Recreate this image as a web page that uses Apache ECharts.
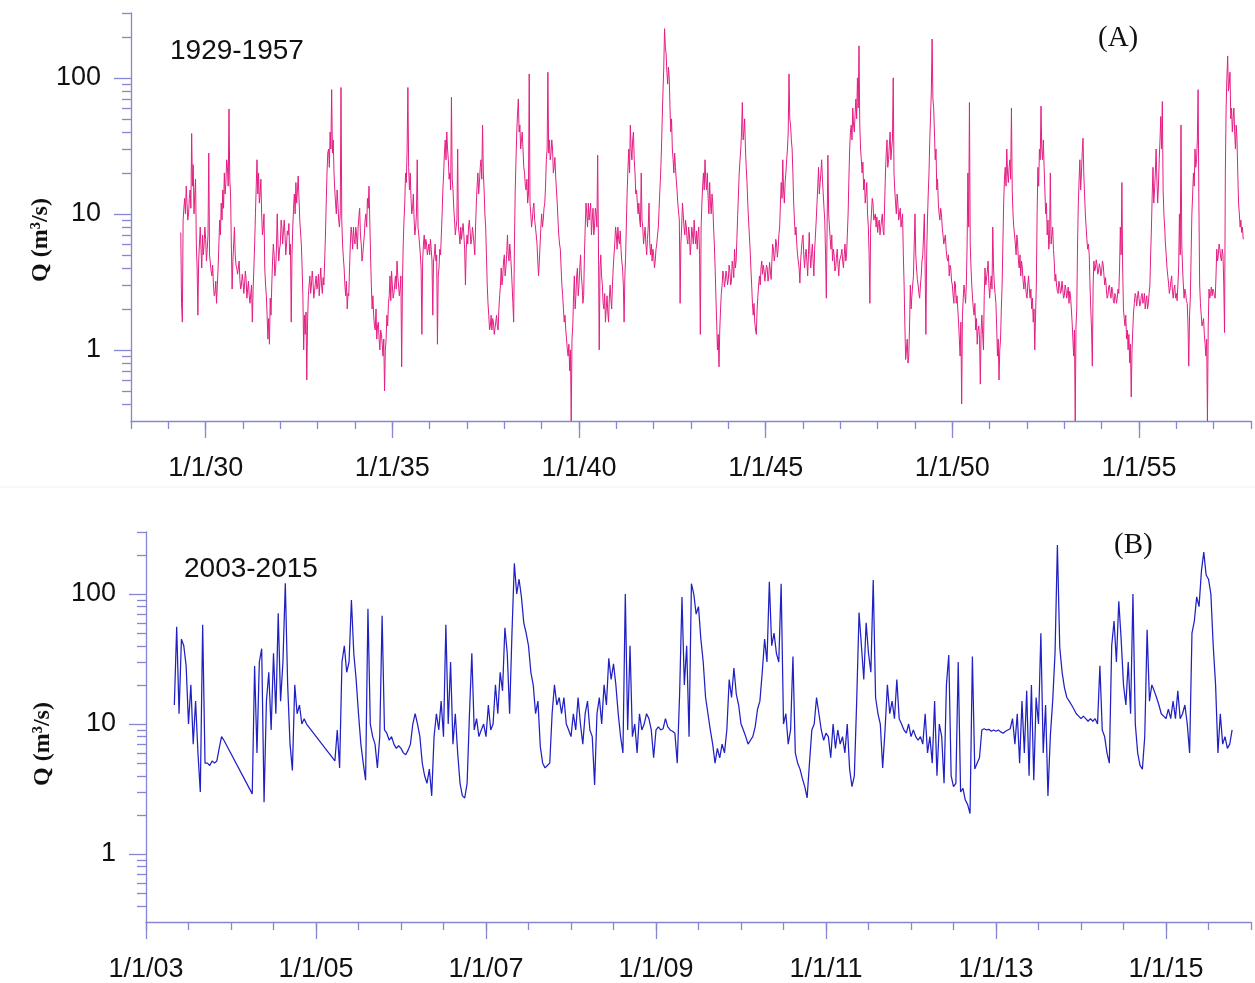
<!DOCTYPE html>
<html>
<head>
<meta charset="utf-8">
<script src="https://cdn.jsdelivr.net/npm/echarts@6/dist/echarts.min.js"></script>
<style>
  html, body { margin: 0; padding: 0; background: #ffffff; }
  #chart { width: 1255px; height: 983px; }
</style>
</head>
<body>
<div id="chart"></div>
<script>
// Discharge Q (m3/s), 1929-1957, 48 readings per year (about weekly).
const qA_1929 = [null, null, null, null, null, null, null, null, null, null, null, null, null, null, null, null,
  7.3, 2.2, 1.6, 9, 11, 13, 10, 16, 12, 9, 10, 13, 15, 11, 39, 16, 23, 10, 14, 18, 6, 4, 1.8, 4.5, 6, 8, 5.5, 4, 7, 5, 6, 8];
const qA_1930 = [6.5, 4.5, 5.5, 7, 28, 5, 5, 3.8, 3.5, 4.2, 3, 2.5, 2.6, 3.2, 2.2, 3, 4, 6, 9, 7, 12, 9, 15, 11,
  20, 14, 17, 25, 22, 16, 59, 18, 14, 6, 2.8, 4.5, 6, 8, 5, 4.2, 4, 3.6, 3.5, 4.5, 3.3, 2.8, 3, 3.6];
const qA_1931 = [3.2, 2.6, 3, 3.8, 3.3, 2.4, 2.8, 3.2, 2.5, 2.2, 2.6, 3, 1.6, 2.8, 4, 6, 10, 16, 25, 14, 20, 12, 14, 18,
  10, 7, 8, 10, 4, 3, 2.5, 1.8, 1.2, 1.7, 1.1, 2.4, 1.8, 3, 4.5, 6, 5, 3.5, 4, 5.5, 10, 6, 4.5, 5.5];
const qA_1932 = [6, 9, 8, 6, 7.5, 9, 7, 5, 6, 7.5, 7, 8.5, 5, 6, 1.6, 5, 8, 11, 14, 10, 17, 12, 15, 19,
  13, 9, 9, 6, 4, 2.5, 1.0, 1.8, 1.3, 1.9, 0.6, 1.6, 2.5, 3, 3.5, 2.6, 3, 3.8, 3.2, 2.4, 2.7, 3.1, 3.5, 2.8];
const qA_1933 = [3, 3.6, 2.5, 3.2, 4, 3, 2.6, 3.4, 3, 4.5, 7, 12, 20, 28, 30, 22, 40, 30, 82, 28, 35, 20, 15, 12,
  10, 15, 12, 9, 8, 10, 85, 9, 6, 4.8, 4, 3, 2.5, 3.2, 2, 2.6, 2.5, 4, 6, 8, 7, 5.5, 8, 6.5];
const qA_1934 = [6, 8, 7, 5.5, 8, 9.5, 11, 7, 6, 4.5, 5, 6, 7, 9, 10, 8, 13, 11, 16, 9, 5, 3, 2, 2.5,
  1.8, 1.5, 1.4, 2, 1.2, 1.5, 1.6, 1.2, 1.0, 1.4, 1.3, 1.1, 0.9, 1.2, 0.5, 1.0, 1.2, 1.8, 1.5, 2.2, 2.5, 3.5, 2.3, 3.8];
const qA_1935 = [3, 2.4, 2.6, 3, 3.5, 2.8, 4.5, 3.5, 3, 2.5, 2.8, 3.5, 0.75, 3, 6, 9, 12, 20, 17, 30, 85, 22, 15, 20,
  13, 10, 11, 14, 9, 7, 8, 10, 25, 8, 7, 6, 5, 4, 1.3, 4.5, 6, 7, 5.5, 6.5, 6, 5, 5.5, 6];
const qA_1936 = [5, 6.5, 5.5, 4.5, 1.8, 4.5, 5, 6, 4.5, 5, 1.1, 3.5, 4, 5.5, 5, 7, 10, 15, 20, 28, 35, 25, 40, 30,
  25, 18, 20, 15, 72, 18, 15, 11, 9, 7, 8, 9, 30, 8, 7, 6, 8, 6.5, 7.5, 8.5, 7, 5.5, 3, 5.5];
const qA_1937 = [7, 6, 8, 9, 7.5, 6, 6.5, 8, 7, 6, 5, 8, 12, 16, 20, 14, 17, 22, 25, 18, 45, 20, 15, 10,
  8, 5, 3, 2.2, 1.8, 1.4, 1.5, 1.8, 1.4, 1.7, 1.6, 1.3, 1.3, 1.6, 1.8, 1.5, 1.4, 2, 2.5, 3, 4, 3, 3.5, 4.5];
const qA_1938 = [5, 3.5, 4, 5, 7, 5, 4.5, 6, 5, 4, 3, 2.2, 1.6, 6, 15, 25, 40, 55, 70, 40, 45, 30, 35, 40,
  30, 22, 20, 16, 15, 18, 12, 14, 107, 12, 10, 8, 9, 11, 12, 9, 8, 7, 6, 4.5, 3.5, 4.5, 6, 8];
const qA_1939 = [10, 8, 9, 11, 12, 16, 25, 30, 110, 28, 35, 25, 28, 35, 30, 20, 22, 26, 19, 15, 12, 9, 7, 6,
  5.5, 4, 3, 2.5, 2, 1.6, 1.8, 1.4, 1.2, 1.0, 0.9, 1.1, 0.7, 1.0, 0.3, 1.2, 1.5, 2.5, 3.5, 2, 2.5, 3.5, 4, 2.5];
const qA_1940 = [3, 4, 5, 3.5, 3, 2.2, 2.5, 5, 8, 12, 10, 8, 12, 9, 9, 12, 7, 9, 11, 7, 8, 11, 10, 8,
  27, 6, 1.0, 4, 5, 3.5, 3, 2.2, 2, 2.6, 1.6, 2, 2.5, 1.9, 1.6, 2.4, 3, 2.4, 2, 3, 4, 5, 6, 8];
const qA_1941 = [7, 5.5, 8, 6.5, 6, 7.5, 5.5, 4.5, 4, 3, 1.6, 3.5, 5, 9, 15, 22, 30, 20, 45, 30, 25, 35, 40, 25,
  20, 14, 15, 12, 10, 12, 9, 8, 20, 9, 8, 6, 7, 8, 6, 5, 6.5, 8, 12, 6, 5, 6, 4.5, 5.5];
const qA_1942 = [5, 4, 4.5, 5.5, 6, 7, 8, 11, 15, 20, 30, 50, 80, 120, 230, 170, 150, 110, 90, 120, 100, 60, 40, 50,
  30, 25, 20, 28, 22, 18, 15, 12, 12, 9, 2.2, 6, 8, 12, 10, 8, 7, 9, 8, 6.5, 6, 8, 7, 5];
const qA_1943 = [6, 8, 7, 6, 9, 7, 6, 7.5, 5.5, 7, 8, 5, 1.3, 8, 12, 16, 20, 15, 25, 18, 15, 20, 13, 10,
  17, 12, 10, 14, 12, 8, 6, 4, 2.5, 1.6, 1.0, 1.3, 0.75, 1.4, 2.0, 2.6, 3.0, 3.8, 3.5, 2.9, 3.2, 3.8, 3.5, 3];
const qA_1944 = [3.3, 4.2, 3.8, 3, 3.2, 4.5, 4, 3.4, 5.5, 4, 4.5, 6.5, 9.7, 14, 20, 25, 30, 40, 66, 35, 40, 50, 30, 22,
  17, 12, 9, 7, 5.5, 4, 3, 2.2, 1.8, 2.2, 1.6, 1.4, 1.3, 2, 2.5, 3, 3.5, 3, 4, 4.5, 3.6, 4.2, 3.8, 3.2];
const qA_1945 = [3.3, 4.2, 4, 3.2, 3.5, 4.4, 3.8, 3.3, 4.5, 6, 5.5, 4.5, 5, 6.5, 6, 4.8, 5.5, 7, 8, 12, 17, 13, 25, 15,
  12, 17, 20, 25, 30, 40, 107, 50, 45, 35, 30, 20, 12, 9, 7, 8, 6, 5, 5, 4, 3.1, 4.5, 5.5, 6.5];
const qA_1946 = [7, 5, 4, 5, 5.5, 4.5, 3.5, 5, 7.3, 5, 4, 5, 6, 4.5, 3.5, 5.5, 7, 9, 12, 16, 22, 14, 17, 20,
  25, 18, 14, 11, 9, 5, 2.4, 8, 27, 10, 8, 6.5, 5.5, 7, 4.5, 5.5, 5, 3.8, 4, 4.8, 5.5, 4.2, 3.5, 4.5];
const qA_1947 = [4.5, 5, 5.5, 4.5, 4, 5, 6, 4.5, 5, 7, 10, 18, 30, 40, 45, 35, 60, 45, 40, 55, 70, 50, 100, 60,
  172, 45, 30, 25, 20, 24, 15, 18, 12, 14, 17, 10, 8, 5, 2.2, 8, 10, 13, 12, 9, 9, 10, 8, 9.5];
const qA_1948 = [7.3, 8.5, 9, 7, 8, 9, 10, 7.5, 7, 12, 20, 28, 35, 22, 25, 32, 40, 25, 30, 35, 100, 20, 15, 12,
  10, 14, 12, 9, 9, 11, 8, 9, 10, 5, 3, 1.5, 0.85, 1.0, 1.2, 0.8, 0.9, 1.5, 3, 2, 2.5, 3, 3.5, 6];
const qA_1949 = [10, 5, 4, 3.3, 3, 2.6, 2.4, 3, 3.5, 4.5, 5, 7, 10, 4, 1.3, 5, 9, 14, 20, 35, 52, 80, 193, 70,
  60, 40, 25, 30, 15, 18, 12, 10, 9, 11, 10, 8, 7, 6, 6, 7, 5.5, 4.8, 4.5, 5, 3.5, 4.2, 4, 3.2];
const qA_1950 = [3, 2.5, 2.2, 3.2, 3, 2.2, 2.5, 2, 1.6, 1.2, 0.9, 1.6, 0.4, 1.8, 2.4, 3, 2.6, 2.2, 3, 6, 20, 8, 66, 6,
  4, 3, 2.4, 2, 1.8, 2.2, 1.4, 1.7, 1.1, 1.4, 1.5, 1.2, 0.56, 1.4, 1.8, 1.3, 1.0, 2.5, 4, 3, 3, 3.8, 4.5, 3];
const qA_1951 = [2.4, 3, 3.5, 2.8, 8, 4, 3, 2.6, 2.2, 1.5, 0.9, 1.2, 0.6, 1.0, 1.2, 2, 3, 6, 12, 18, 22, 16, 30, 20,
  17, 22, 25, 18, 60, 15, 10, 8, 7, 6, 5, 7, 6, 4.5, 4, 5, 3.5, 4.5, 4, 3.2, 2.8, 3.5, 3, 2.6];
const qA_1952 = [2.4, 3, 3.5, 2.8, 2.4, 2.8, 2, 2.4, 1.6, 2, 1.0, 1.8, 3, 10, 22, 16, 30, 25, 62, 30, 25, 35, 22, 15,
  10, 12, 7, 9, 5.5, 6.5, 20, 6, 7, 8, 5.5, 4.5, 3.2, 3.6, 3, 2.7, 2.6, 3.2, 3, 2.6, 2.7, 3.2, 2.8, 2.4];
const qA_1953 = [2.5, 3, 2.8, 2.4, 2.6, 2.9, 2.2, 2.7, 2.5, 2, 1.6, 1.2, 0.9, 1.4, 0.3, 1.5, 2, 6, 12, 18, 25, 15, 20, 28,
  36, 20, 14, 10, 8, 6.5, 5.5, 6, 5, 3, 2, 1.4, 0.76, 3, 4.5, 3.8, 4, 4.6, 4.2, 3.6, 3.8, 4.3, 4, 3.5];
const qA_1954 = [3.8, 4.5, 4.2, 3.5, 3, 3.4, 2.8, 2.4, 2.5, 2.9, 3, 2.6, 2.4, 2.9, 2.7, 2.3, 2.2, 2.6, 2.5, 2.2, 2.4, 2.8, 2.6, 4,
  8, 5, 17, 4, 2, 1.7, 1.5, 1.8, 1.2, 1.4, 1.0, 1.3, 0.8, 1.1, 0.45, 1.0, 1.4, 1.9, 2.2, 2.6, 2.5, 2.1, 2.4, 2.7];
const qA_1955 = [2.4, 2.1, 2.2, 2.5, 2.6, 2.2, 2.3, 2.6, 2, 2.3, 2.5, 2, 2.2, 2.6, 3, 5, 8, 14, 22, 12, 15, 20, 30, 18,
  12, 16, 25, 35, 52, 30, 67, 15, 10, 8, 6, 5, 4, 3.5, 3.1, 2.6, 2.8, 3.2, 3.5, 2.7, 2.4, 2.8, 3, 2.4];
const qA_1956 = [2.6, 2.3, 3, 4, 10, 5, 45, 6, 4, 3, 2.4, 2.8, 2.6, 2.3, 2.2, 1.5, 0.76, 1.8, 2.4, 5, 10, 14, 20, 16,
  30, 22, 25, 35, 82, 12, 3, 2.2, 1.8, 1.5, 1.5, 1.7, 1.3, 1.1, 0.9, 1.2, 0.3, 1.5, 2.8, 2.4, 2.6, 2.9, 2.5, 2.8];
const qA_1957 = [2.7, 2.5, 2.4, 3.5, 5.5, 4.5, 5, 6, 5.5, 4.8, 4.5, 5.5, 5, 3, 1.34, 20, 60, 100, 145, 80, 90, 110, 50, 60,
  40, 50, 60, 40, 30, 45, 35, 20, 12, 10, 8, 9, 7.3, 8, 6.5];

const yearsA = [1929, 1930, 1931, 1932, 1933, 1934, 1935, 1936, 1937, 1938, 1939, 1940, 1941, 1942, 1943,
  1944, 1945, 1946, 1947, 1948, 1949, 1950, 1951, 1952, 1953, 1954, 1955, 1956, 1957];
const rowsA = [qA_1929, qA_1930, qA_1931, qA_1932, qA_1933, qA_1934, qA_1935, qA_1936, qA_1937, qA_1938,
  qA_1939, qA_1940, qA_1941, qA_1942, qA_1943, qA_1944, qA_1945, qA_1946, qA_1947, qA_1948, qA_1949,
  qA_1950, qA_1951, qA_1952, qA_1953, qA_1954, qA_1955, qA_1956, qA_1957];
const samplesPerYearA = 48;

// Discharge Q (m3/s), 2003-2015, 36 readings per year (null = no record).
const qB_2003 = [null, null, null, null, null, null, null, null, null, null, null, null,
  14, 56, 12, 45, 40, 28, 10, 20, 7, 15, 6, 3, 58, 5, 5, 4.8, 5.2, 5, 5.2, 6.5, 8, 7.5, null, null];
const qB_2004 = [null, null, null, null, null, null, null, null, null,
  2.9, 28, 6, 30, 38, 2.5, 15, 25, 9, 35, 12, 71, 15, 30, 121, 20, 7, 4.4, 20, 12, 14, 10, 11, 10, null, null, null];
const qB_2005 = [null, null, null, null, null, null, null, null,
  5.2, 9, 4.6, 30, 40, 25, 30, 90, 35, 22, 12, 7, 5, 3.7, 77, 10, 8, 7, 4.6, 8, 68, 9, 8.5, 7.5, 8, 7, 6.5, 6.8];
const qB_2006 = [6.5, 6, 5.8, 6.3, 7, 10, 12, 10, 8, 5, 4, 3.5, 4.5, 2.8, 8, 12, 9, 15, 8, 58, 10, 30, 7, 12,
  6, 3.5, 2.8, 2.7, 3.5, 12, 35, 9, 11, 8, 9, 10];
const qB_2007 = [8, 14, 9, 10, 20, 12, 25, 18, 55, 35, 12, 50, 172, 100, 130, 95, 60, 50, 40, 25, 20, 12, 15, 6.7,
  5, 4.6, 4.8, 5, 12, 20, 14, 16, 12, 16, 10, 9];
const qB_2008 = [8, 12, 9, 16, 10, 7, 12, 15, 9, 8, 3.4, 12, 16, 10, 20, 14, 32, 22, 29, 20, 12, 8, 6, 100,
  9, 40, 8, 10, 6, 12, 9, 10, 12, 11, 9, 5.5];
const qB_2009 = [9, 9.5, 9, 9.2, 11, 9.5, 9, 8.8, 8.5, 5, 17, 95, 20, 40, 8, 120, 100, 70, 80, 45, 30, 16, 12, 9,
  7, 5, 6.5, 5.5, 7, 6, 9, 22, 16, 27, 17, 14];
const qB_2010 = [10, 9, 8, 7, 7.5, 8, 9.5, 13, 15, 25, 45, 30, 124, 40, 50, 35, 30, 120, 10, 12, 7, 9, 33, 6,
  5, 4.5, 3.8, 3.3, 2.7, 5, 9, 10, 16, 12, 9, 7.5];
const qB_2011 = [8.5, 8, 5.5, 10, 6.5, 9, 7, 8, 6, 10, 4.5, 3.3, 4, 15, 72, 40, 22, 60, 35, 25, 128, 16, 12, 10,
  4.6, 9, 20, 12, 15, 11, 22, 11, 10, 9, 8.5, 10];
const qB_2012 = [8, 9, 8, 7.5, 8, 7, 12, 6, 8, 5, 15, 4, 10, 8, 3.5, 20, 34, 4, 3.3, 3.5, 30, 3, 3.2, 2.6,
  2.4, 2.05, 33, 4.5, 5, 5.5, 9, 9.2, 9, 9.1, 8.8, 9];
const qB_2013 = [8.8, 9, 8.7, 8.5, 8.8, 9, 9.2, 11, 7, 12, 5, 15, 6, 18, 4, 20, 3.7, 16, 10, 50, 6, 14, 2.8, 8,
  15, 35, 238, 39, 25, 19, 16, 15, 14, 13, 12, 11.5];
const qB_2014 = [11, 11.5, 11, 10.5, 11, 10.5, 11, 10, 28, 9, 8, 6, 5, 40, 62, 30, 88, 45, 20, 14, 30, 12, 100, 10,
  6, 4.8, 4.5, 8, 53, 15, 20, 18, 16, 14, 12, 11.5];
const qB_2015 = [11, 13, 11, 15, 11, 18, 11, 12, 14, 10, 6, 50, 62, 95, 80, 150, 210, 140, 130, 100, 40, 20, 6, 12,
  7, 8, 6.5, 7, 9];

const yearsB = [2003, 2004, 2005, 2006, 2007, 2008, 2009, 2010, 2011, 2012, 2013, 2014, 2015];
const rowsB = [qB_2003, qB_2004, qB_2005, qB_2006, qB_2007, qB_2008, qB_2009, qB_2010, qB_2011, qB_2012,
  qB_2013, qB_2014, qB_2015];
const samplesPerYearB = 36;

// Axis ticks and labels
const labelYearsA = [1930, 1935, 1940, 1945, 1950, 1955];
const labelYearsB = [2003, 2005, 2007, 2009, 2011, 2013, 2015];
const qMajorTicks = [1, 10, 100];
const qMinorTicks = [0.4, 0.5, 0.6, 0.7, 0.8, 0.9, 2, 3, 4, 5, 6, 7, 8, 9,
  20, 30, 40, 50, 60, 70, 80, 90, 200, 300];

function toPoints(years, rows, perYear) {
  const pts = [];
  years.forEach(function (yr, k) {
    rows[k].forEach(function (q, i) { pts.push([yr + i / perYear, q]); });
  });
  return pts;
}

const AXIS = '#8686d2';
const SANS = '"Liberation Sans", Arial, Helvetica, sans-serif';
const SERIF = '"Liberation Serif", "Times New Roman", serif';
const dateLabel = function (v) { return '1/1/' + String(Math.round(v) % 100).padStart(2, '0'); };

function xMajor(grid, min, max, ticks) {
  return {
    type: 'value', gridIndex: grid, min: min, max: max, position: 'bottom',
    axisLine: { show: true, lineStyle: { color: AXIS, width: 1.3 } },
    axisTick: { show: true, length: 17, customValues: ticks, lineStyle: { color: AXIS, width: 1.3 } },
    axisLabel: { show: true, customValues: ticks, formatter: dateLabel, margin: 34,
      color: '#111', fontSize: 27, fontFamily: SANS },
    splitLine: { show: false }
  };
}
function xMinor(grid, min, max, step) {
  return {
    type: 'value', gridIndex: grid, min: min, max: max, interval: step, position: 'bottom', offset: 0,
    axisLine: { show: false },
    axisTick: { show: true, length: 8, lineStyle: { color: AXIS, width: 1.3 } },
    axisLabel: { show: false }, splitLine: { show: false }
  };
}
function yMajor(grid) {
  return {
    type: 'log', logBase: 10, gridIndex: grid, min: 0.3, max: 300, position: 'left',
    axisLine: { show: true, lineStyle: { color: AXIS, width: 1.3 } },
    axisTick: { show: true, length: 17, customValues: qMajorTicks, lineStyle: { color: AXIS, width: 1.3 } },
    axisLabel: { show: true, customValues: qMajorTicks, margin: 30,
      color: '#111', fontSize: 27, fontFamily: SANS },
    splitLine: { show: false }
  };
}
function yMinor(grid) {
  return {
    type: 'log', logBase: 10, gridIndex: grid, min: 0.3, max: 300, position: 'left', offset: 0,
    axisLine: { show: false },
    axisTick: { show: true, length: 9, customValues: qMinorTicks, lineStyle: { color: AXIS, width: 1.3 } },
    axisLabel: { show: false }, splitLine: { show: false }
  };
}

const chart = echarts.init(document.getElementById('chart'), null, { renderer: 'canvas' });
chart.setOption({
  animation: false,
  backgroundColor: '#ffffff',
  grid: [
    { left: 131, top: 13, width: 1120, height: 408 },
    { left: 146, top: 532, width: 1105, height: 390 }
  ],
  xAxis: [
    xMajor(0, 1928, 1958, labelYearsA), xMinor(0, 1928, 1958, 1),
    xMajor(1, 2003, 2016, labelYearsB), xMinor(1, 2003, 2016, 0.5)
  ],
  yAxis: [yMajor(0), yMinor(0), yMajor(1), yMinor(1)],
  series: [
    {
      type: 'line', xAxisIndex: 0, yAxisIndex: 0, data: toPoints(yearsA, rowsA, samplesPerYearA),
      showSymbol: false, symbol: 'none', connectNulls: false,
      lineStyle: { color: '#e41f83', width: 1 }
    },
    {
      type: 'line', xAxisIndex: 2, yAxisIndex: 2, data: toPoints(yearsB, rowsB, samplesPerYearB),
      showSymbol: false, symbol: 'none', connectNulls: true,
      lineStyle: { color: '#2020c4', width: 1.25 }
    }
  ],
  graphic: [
    { type: 'line', shape: { x1: 0, y1: 487, x2: 1255, y2: 487 }, style: { stroke: '#efefef', lineWidth: 1 } },
    { type: 'text', x: 170, y: 51, style: { text: '1929-1957', font: '28px ' + SANS, fill: '#111', verticalAlign: 'middle' } },
    { type: 'text', x: 184, y: 569, style: { text: '2003-2015', font: '28px ' + SANS, fill: '#111', verticalAlign: 'middle' } },
    { type: 'text', x: 1098, y: 38, style: { text: '(A)', font: '29px ' + SERIF, fill: '#111', verticalAlign: 'middle' } },
    { type: 'text', x: 1114, y: 545, style: { text: '(B)', font: '29px ' + SERIF, fill: '#111', verticalAlign: 'middle' } },
    { type: 'text', x: 41, y: 240, rotation: Math.PI / 2,
      style: { text: 'Q (m³/s)', font: 'bold 24px ' + SERIF, fill: '#111', align: 'center', verticalAlign: 'middle' } },
    { type: 'text', x: 43, y: 744, rotation: Math.PI / 2,
      style: { text: 'Q (m³/s)', font: 'bold 24px ' + SERIF, fill: '#111', align: 'center', verticalAlign: 'middle' } }
  ]
});
</script>
</body>
</html>
